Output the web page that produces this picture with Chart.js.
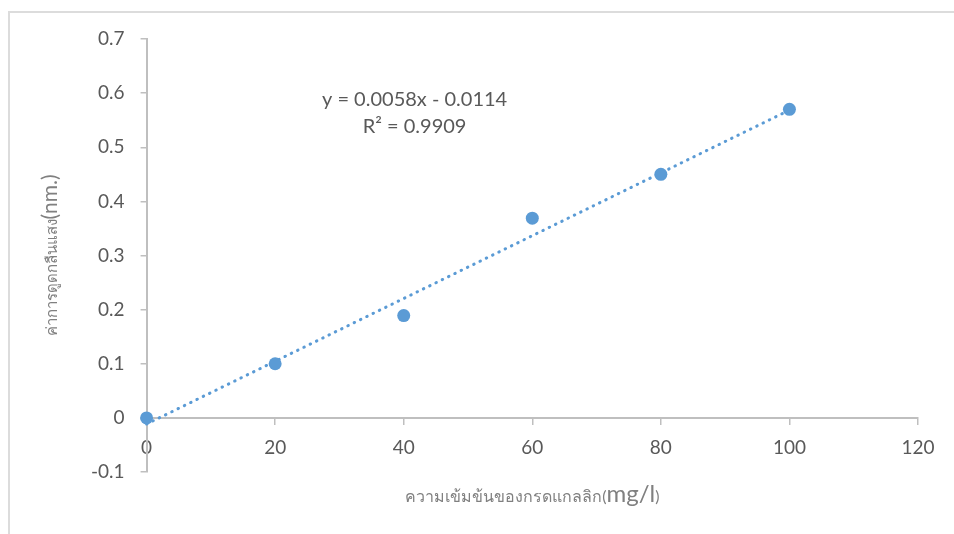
<!DOCTYPE html>
<html>
<head>
<meta charset="utf-8">
<script src="https://cdn.jsdelivr.net/npm/chart.js@4"></script>
<style>
  body { margin: 0; background: #fff; }
  #frame { position: absolute; left: 8px; top: 11px; right: 0; bottom: 0;
           border-top: 2px solid #dcdcdc; border-left: 2px solid #dcdcdc; }
  #wrap { position: absolute; left: 0; top: 0; width: 954px; height: 534px; }
</style>
</head>
<body>
<div id="frame"></div>
<div id="wrap"><canvas id="myChart"></canvas></div>
<script>
// data
const concentration = [0, 20, 40, 60, 80, 100];
const absorbance = [0, 0.1, 0.189, 0.369, 0.45, 0.57];
const trendX = [0, 100];
const trendY = [-0.0114, 0.5686];
const xTickValues = [0, 20, 40, 60, 80, 100, 120];
const yTickValues = [-0.1, 0, 0.1, 0.2, 0.3, 0.4, 0.5, 0.6, 0.7];
const equationLines = ['y = 0.0058x - 0.0114', 'R² = 0.9909'];
// axis titles: thai part, unit part
const xTitle = ['ความเข้มข้นของกรดแกลลิก(', 'mg/l', ')'];
const yTitle = ['ค่าการดูดกลืนแสง', '(nm.)', ''];

const fontFamily = "Lato, 'Noto Sans', sans-serif";
const blue = '#5b9bd5';
const axisGray = '#bfbfbf';
const textGray = '#595959';
const titleGray = '#808080';

// draw a title made of runs with different sizes, centred on (0,0)
function drawRuns(ctx, runs, sizes) {
    let total = 0;
    const widths = runs.map((t, i) => {
        ctx.font = sizes[i] + 'px ' + fontFamily;
        const w = ctx.measureText(t).width;
        total += w;
        return w;
    });
    let x = -total / 2;
    runs.forEach((t, i) => {
        ctx.font = sizes[i] + 'px ' + fontFamily;
        ctx.fillText(t, x, 0);
        x += widths[i];
    });
}

const chartText = {
    id: 'chartText',
    afterDraw(chart) {
        const ctx = chart.ctx;
        const area = chart.chartArea;
        const y0 = chart.scales.y.getPixelForValue(0);
        ctx.save();
        ctx.fillStyle = textGray;
        ctx.font = '20px ' + fontFamily;
        ctx.textAlign = 'center';
        ctx.textBaseline = 'middle';
        ctx.fillText(equationLines[0], area.left + 268, 100);
        ctx.fillText(equationLines[1], area.left + 268, 127);

        ctx.textAlign = 'left';
        ctx.textBaseline = 'alphabetic';
        ctx.fillStyle = titleGray;
        ctx.save();
        ctx.translate((area.left + area.right) / 2, y0 + 84);
        drawRuns(ctx, xTitle, [16, 24, 16]);
        ctx.restore();

        ctx.save();
        ctx.translate(57, (area.top + area.bottom) / 2);
        ctx.rotate(-Math.PI / 2);
        drawRuns(ctx, yTitle, [15, 21, 15]);
        ctx.restore();
        ctx.restore();
    }
};

const ctx = document.getElementById('myChart').getContext('2d');
const chart = new Chart(ctx, {
    data: {
        datasets: [{
            type: 'scatter',
            label: 'absorbance',
            data: concentration.map((x, i) => ({x: x, y: absorbance[i]})),
            backgroundColor: blue,
            borderColor: blue,
            pointRadius: 6.5,
            pointBorderWidth: 0,
            clip: false,
            order: 0
        }, {
            type: 'line',
            label: 'trend',
            data: trendX.map((x, i) => ({x: x, y: trendY[i]})),
            borderColor: blue,
            borderWidth: 3,
            borderDash: [0.5, 6.5],
            borderCapStyle: 'round',
            pointRadius: 0,
            fill: false,
            clip: false,
            order: 1
        }]
    },
    options: {
        responsive: true,
        maintainAspectRatio: false,
        animation: false,
        layout: { padding: { left: 75, top: 39, right: 36, bottom: 62 } },
        plugins: {
            legend: { display: false },
            tooltip: { enabled: false }
        },
        scales: {
            x: {
                type: 'linear',
                min: 0,
                max: 120,
                position: { y: 0 },
                afterBuildTicks: s => { s.ticks = xTickValues.map(v => ({value: v})); },
                afterFit: s => { s.height = 0; },
                grid: { display: true, drawOnChartArea: false, drawTicks: true, tickLength: 6, color: axisGray, lineWidth: 1.5 },
                border: { display: true, color: axisGray, width: 2 },
                ticks: { color: textGray, font: { size: 19, family: fontFamily }, padding: 13 }
            },
            y: {
                type: 'linear',
                min: -0.1,
                max: 0.7,
                afterBuildTicks: s => { s.ticks = yTickValues.map(v => ({value: v})); },
                grid: { display: true, drawOnChartArea: false, drawTicks: true, tickLength: 6, color: axisGray, lineWidth: 1.5 },
                border: { display: true, color: axisGray, width: 2 },
                ticks: { color: textGray, font: { size: 19, family: fontFamily }, padding: 16 }
            }
        }
    },
    plugins: [chartText]
});
</script>
</body>
</html>
